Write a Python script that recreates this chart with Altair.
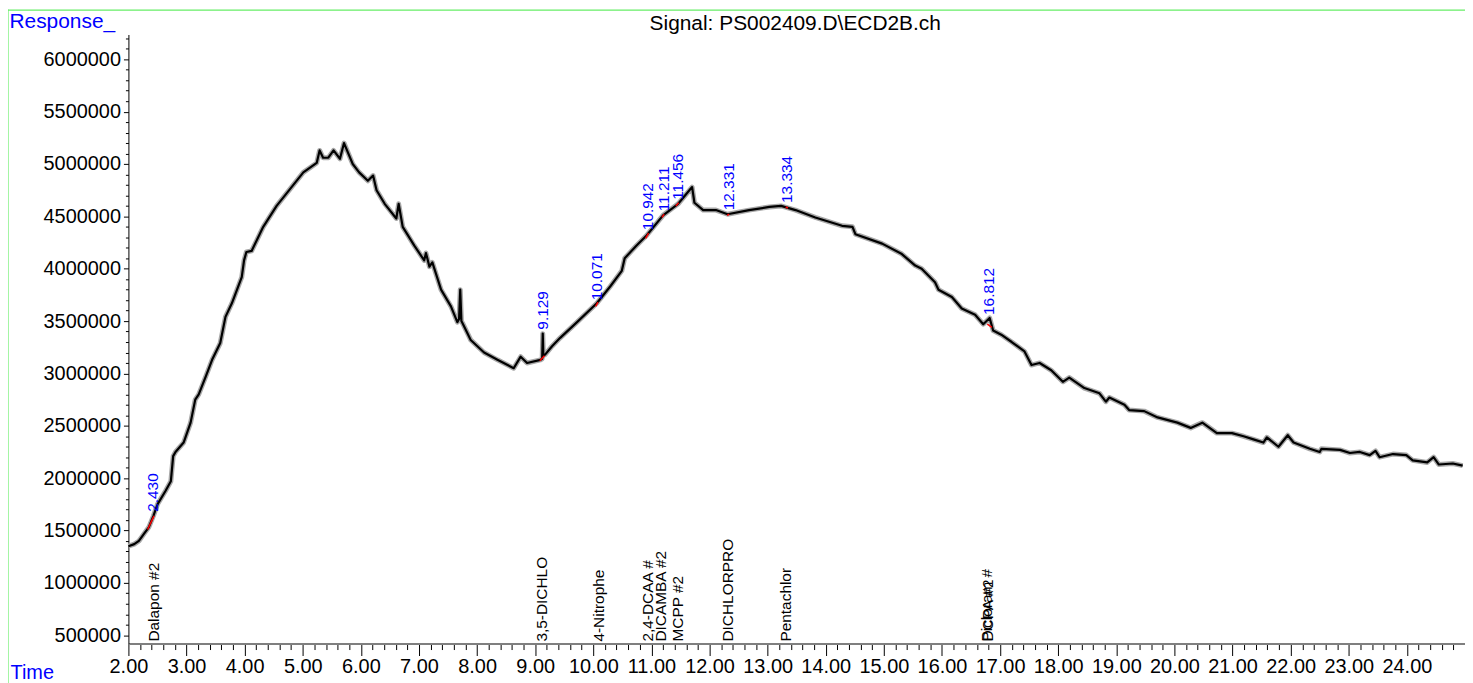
import altair as alt
import pandas as pd

# ---- chromatogram trace (time in min, response) ----
times = [2.00, 2.10, 2.18, 2.27, 2.35, 2.43, 2.50, 2.64, 2.73, 2.77, 2.81, 2.95, 3.07, 3.15, 3.21,
         3.33, 3.44, 3.58, 3.67, 3.78, 3.95, 3.99, 4.03, 4.12, 4.32, 4.55, 4.78, 5.01, 5.24, 5.29,
         5.35, 5.44, 5.53, 5.64, 5.71, 5.86, 5.97, 6.12, 6.21, 6.27, 6.41, 6.61, 6.65, 6.72, 6.92,
         7.09, 7.12, 7.18, 7.23, 7.38, 7.55, 7.66, 7.69, 7.71, 7.73, 7.75, 7.89, 8.12, 8.35, 8.63,
         8.75, 8.86, 9.09, 9.12, 9.13, 9.14, 9.17, 9.29, 9.43, 9.72, 10.06, 10.29, 10.49, 10.54,
         10.74, 10.92, 11.20, 11.46, 11.70, 11.74, 11.89, 12.11, 12.31, 12.68, 13.03, 13.23, 13.48,
         13.82, 14.28, 14.46, 14.51, 14.97, 15.31, 15.54, 15.65, 15.88, 15.94, 16.17, 16.34, 16.57,
         16.71, 16.82, 16.88, 17.02, 17.20, 17.42, 17.54, 17.68, 17.88, 18.08, 18.19, 18.45, 18.71,
         18.82, 18.88, 19.14, 19.22, 19.48, 19.71, 20.05, 20.28, 20.48, 20.73, 20.99, 21.19, 21.36,
         21.53, 21.59, 21.79, 21.95, 22.05, 22.33, 22.50, 22.53, 22.85, 23.02, 23.19, 23.36, 23.46,
         23.53, 23.76, 23.99, 24.10, 24.35, 24.46, 24.55, 24.79, 24.96]
responses = [1350000, 1370000, 1400000, 1470000, 1530000, 1640000, 1750000, 1880000, 1970000,
             2210000, 2250000, 2340000, 2530000, 2750000, 2800000, 2970000, 3130000, 3290000,
             3540000, 3670000, 3920000, 4080000, 4160000, 4170000, 4400000, 4600000, 4760000,
             4920000, 5010000, 5130000, 5060000, 5060000, 5130000, 5050000, 5200000, 5000000,
             4920000, 4840000, 4890000, 4750000, 4620000, 4480000, 4620000, 4400000, 4220000,
             4080000, 4150000, 4020000, 4060000, 3800000, 3640000, 3490000, 3520000, 3800000,
             3500000, 3480000, 3320000, 3200000, 3130000, 3050000, 3160000, 3100000, 3130000,
             3140000, 3380000, 3170000, 3180000, 3260000, 3340000, 3490000, 3670000, 3830000,
             3980000, 4100000, 4220000, 4320000, 4510000, 4620000, 4780000, 4630000, 4560000,
             4560000, 4520000, 4560000, 4590000, 4600000, 4560000, 4490000, 4410000, 4400000,
             4330000, 4240000, 4140000, 4030000, 4000000, 3870000, 3800000, 3730000, 3620000,
             3560000, 3470000, 3530000, 3410000, 3370000, 3300000, 3210000, 3080000, 3100000,
             3030000, 2920000, 2960000, 2860000, 2810000, 2730000, 2770000, 2700000, 2650000,
             2640000, 2580000, 2530000, 2480000, 2530000, 2430000, 2430000, 2400000, 2370000,
             2340000, 2390000, 2300000, 2410000, 2340000, 2280000, 2250000, 2280000, 2270000,
             2240000, 2250000, 2220000, 2260000, 2200000, 2230000, 2220000, 2170000, 2150000,
             2200000, 2130000, 2140000, 2120000]

# ---- integrated peaks (blue retention-time labels) ----
peak_times = [2.430, 9.129, 10.071, 10.942, 11.211, 11.456, 12.331, 13.334, 16.812]
peak_resp = [1640000, 3380000, 3660000, 4330000, 4510000, 4620000, 4520000, 4590000, 3520000]
peak_labels = ["2.430", "9.129", "10.071", "10.942", "11.211", "11.456", "12.331", "13.334", "16.812"]

# ---- red integration segments ----
seg_t1 = [2.33, 9.08, 10.04, 10.90, 11.18, 11.42, 12.30, 13.31, 16.78]
seg_v1 = [1510000, 3120000, 3640000, 4290000, 4490000, 4600000, 4510000, 4590000, 3470000]
seg_t2 = [2.44, 9.16, 10.08, 10.95, 11.22, 11.47, 12.34, 13.35, 16.86]
seg_v2 = [1640000, 3170000, 3680000, 4340000, 4520000, 4630000, 4520000, 4580000, 3440000]

# ---- compound names (bottom) ----
cmpd_names = ["Dalapon #2", "3,5-DICHLO", "4-Nitrophe", "2,4-DCAA #", "DICAMBA #2", "MCPP #2",
              "DICHLORPRO", "Pentachlor", "Picloram #", "DCPA #2"]
cmpd_times = [2.44, 9.12, 10.09, 10.94, 11.17, 11.46, 12.31, 13.31, 16.78, 16.80]

x_ticks = [round(2 + 0.2 * i, 1) for i in range(115)]
y_ticks = [500000 + 100000 * i for i in range(58)]

FONT = "Liberation Sans"
BLUE = "#0000ff"

trace = pd.DataFrame({"t": times, "v": responses})
peaks = pd.DataFrame({"t": peak_times, "v": peak_resp, "label": peak_labels})
segs = pd.DataFrame({"t": seg_t1, "v": seg_v1, "t2": seg_t2, "v2": seg_v2})
cmpds = pd.DataFrame({"t": cmpd_times, "name": cmpd_names})
one = pd.DataFrame({"a": [0]})

xscale = alt.Scale(domain=[2, 25], nice=False, zero=False)
yscale = alt.Scale(domain=[420000, 6237000], nice=False, zero=False)

x_axis = alt.Axis(
    values=x_ticks, tickCount=1000, format=".2f",
    labelExpr="abs(datum.value - round(datum.value)) < 0.001 ? datum.label : ''",
    labelOverlap=False, labelFlush=False, grid=False,
    tickSize={"condition": {"test": "abs(datum.value - round(datum.value)) < 0.001", "value": 12}, "value": 6},
    tickColor="black", tickWidth=1, domainColor="#7f7f7f", domainWidth=2,
    labelFont=FONT, labelFontSize=20, labelColor="black", labelPadding=1,
    title="Time", titleColor=BLUE, titleFont=FONT, titleFontSize=20, titleFontWeight="normal",
    titleAngle=0, titleAlign="left", titleBaseline="alphabetic", titleX=-119, titleY=35,
)
y_axis = alt.Axis(
    values=y_ticks, tickCount=1000, format="d",
    labelExpr="datum.value % 500000 == 0 ? datum.label : ''",
    labelOverlap=False, labelFlush=False, grid=False,
    tickSize={"condition": {"test": "datum.value % 500000 == 0", "value": 5}, "value": 3},
    tickColor="black", tickWidth=1, domainColor="black", domainWidth=1,
    labelFont=FONT, labelFontSize=20, labelColor="black", labelPadding=3,
    title="Response_", titleColor=BLUE, titleFont=FONT, titleFontSize=21, titleFontWeight="normal",
    titleAngle=0, titleAlign="left", titleBaseline="alphabetic", titleX=-120, titleY=-7,
)

fuzz = alt.Chart(trace).mark_line(color="#a8a8a8", strokeWidth=5, strokeJoin="round").encode(
    x=alt.X("t:Q", scale=xscale, axis=x_axis),
    y=alt.Y("v:Q", scale=yscale, axis=y_axis),
)
line = alt.Chart(trace).mark_line(color="black", strokeWidth=2.2, strokeJoin="round").encode(
    x="t:Q", y="v:Q"
)
red = alt.Chart(segs).mark_rule(color="red", strokeWidth=1.5).encode(
    x="t:Q", y="v:Q", x2="t2:Q", y2="v2:Q"
)
plabels = alt.Chart(peaks).mark_text(
    angle=270, align="left", baseline="middle", dx=4, font=FONT, fontSize=15.5, color=BLUE
).encode(x="t:Q", y="v:Q", text="label:N")
clabels = alt.Chart(cmpds).mark_text(
    angle=270, align="left", baseline="middle", font=FONT, fontSize=15.5, color="black"
).encode(x="t:Q", y=alt.value(610), text="name:N")

title = alt.Chart(one).mark_text(
    text="Signal: PS002409.D\\ECD2B.ch", font=FONT, fontSize=21, color="black",
    align="center", baseline="alphabetic"
).encode(x=alt.value(670), y=alt.value(-5))

green_v = alt.Chart(one).mark_rule(color="#66ee66", strokeWidth=1.2).encode(
    x=alt.value(-121), y=alt.value(-25), y2=alt.value(660)
)
green_h = alt.Chart(one).mark_rule(color="#66ee66", strokeWidth=1.2).encode(
    x=alt.value(-121), x2=alt.value(1343), y=alt.value(-24.5)
)

chart = alt.layer(fuzz, line, red, plabels, clabels, title, green_v, green_h).properties(
    width=1343, height=612,
    padding={"left": 121, "top": 25, "right": 0, "bottom": 40},
    autosize=alt.AutoSizeParams(type="none"),
).configure_view(strokeWidth=0)

chart.save("out.html", embed_options={"renderer": "svg", "actions": False})
